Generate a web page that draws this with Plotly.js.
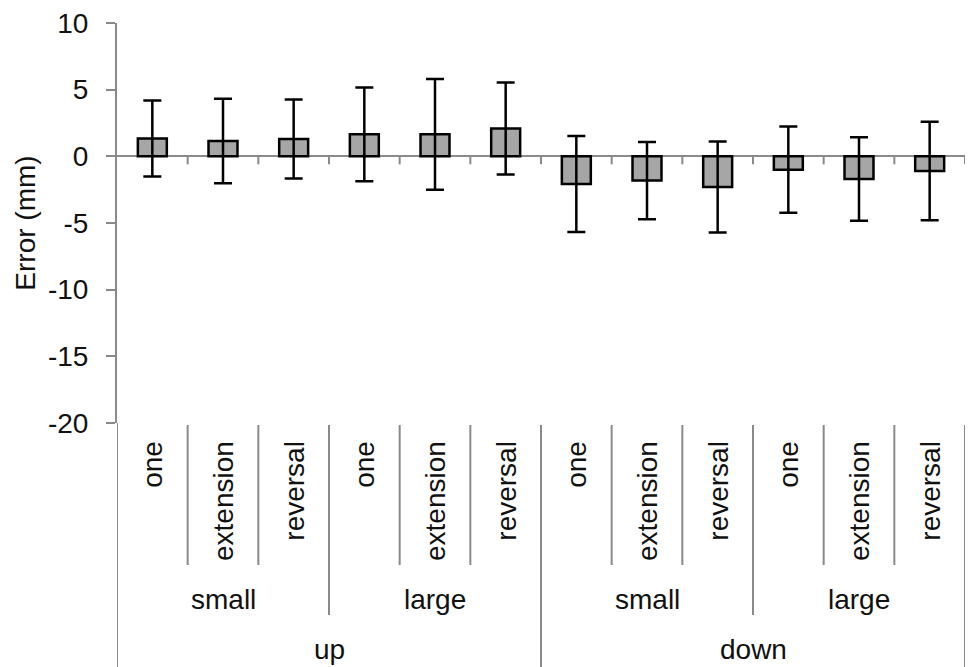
<!DOCTYPE html>
<html><head><meta charset="utf-8">
<script src="https://cdn.plot.ly/plotly-3.0.1.min.js"></script>
<style>html,body{margin:0;padding:0;background:#fff}#chart{width:968px;height:667px}</style>
</head><body><div id="chart"></div>
<script>
const direction = ["up", "down"];
const size = ["small", "large"];
const method = ["one", "extension", "reversal"];
const meanError = [1.33, 1.15, 1.30, 1.65, 1.65, 2.08, -2.08, -1.82, -2.30, -1.00, -1.70, -1.10];
const sdError   = [2.85, 3.17, 2.97, 3.52, 4.15, 3.45, 3.60, 2.90, 3.42, 3.24, 3.14, 3.70];
const yTicks = [10, 5, 0, -5, -10, -15, -20];

const GRAY = "#8a8a8a";
const FONT = {family: "Liberation Sans, Arial, sans-serif", size: 28, color: "#111"};

const nPer2 = method.length;
const nPer1 = size.length * method.length;
const xIdx = meanError.map((_, i) => i);

const annotations = [];
const shapes = [];

direction.forEach((d, di) => {
  annotations.push({x: di * nPer1 + (nPer1 - 1) / 2, xref: 'x', y: -0.567, yref: 'paper',
    text: d, showarrow: false, xanchor: 'center', yanchor: 'middle', font: FONT});
  size.forEach((s, si) => {
    annotations.push({x: di * nPer1 + si * nPer2 + (nPer2 - 1) / 2, xref: 'x', y: -0.44, yref: 'paper',
      text: s, showarrow: false, xanchor: 'center', yanchor: 'middle', font: FONT});
    method.forEach((m, mi) => {
      const k = di * nPer1 + si * nPer2 + mi;
      annotations.push({x: k, xref: 'x', y: -0.04, yref: 'paper', text: m, textangle: -90,
        showarrow: false, xanchor: 'center', yanchor: 'top', font: FONT});
    });
  });
});

const total = meanError.length;
for (let j = 0; j <= total; j++) {
  const b = j - 0.5;
  let yEnd;
  if (j % nPer1 === 0) yEnd = -0.62;
  else if (j % nPer2 === 0) yEnd = -0.48;
  else yEnd = -0.355;
  shapes.push({type: 'line', xref: 'x', yref: 'paper', x0: b, x1: b, y0: j === 0 ? 0 : -0.005, y1: yEnd,
    line: {color: GRAY, width: 2}});
  if (j > 0) {
    shapes.push({type: 'line', xref: 'x', yref: 'y', ysizemode: 'pixel', yanchor: 0,
      x0: b, x1: b, y0: 0, y1: -8, line: {color: GRAY, width: 2}});
  }
}

const trace = {
  type: 'bar',
  x: xIdx,
  y: meanError,
  marker: {color: '#a6a6a6', line: {color: '#000', width: 2.5}},
  error_y: {type: 'data', array: sdError, visible: true, color: '#000', thickness: 2.5, width: 9},
  hoverinfo: 'y'
};

const layout = {
  width: 968, height: 667,
  margin: {l: 117, r: 3, t: 23, b: 244},
  paper_bgcolor: '#fff', plot_bgcolor: '#fff',
  showlegend: false,
  bargap: 0.59,
  font: FONT,
  xaxis: {range: [-0.5, total - 0.5], showticklabels: false, showline: false, zeroline: false,
    showgrid: false, ticks: ''},
  yaxis: {range: [-20, 10], tickvals: yTicks, ticktext: yTicks.map(String), ticks: 'outside', ticklen: 9,
    tickwidth: 2, tickcolor: GRAY, showline: true, linecolor: GRAY, linewidth: 2, showgrid: false,
    zeroline: true, zerolinecolor: GRAY, zerolinewidth: 2, tickfont: FONT, ticklabelstandoff: 12,
    title: {text: 'Error (mm)', font: FONT, standoff: 4}},
  annotations: annotations,
  shapes: shapes
};

Plotly.newPlot('chart', [trace], layout, {displayModeBar: false, staticPlot: true});
</script></body></html>
